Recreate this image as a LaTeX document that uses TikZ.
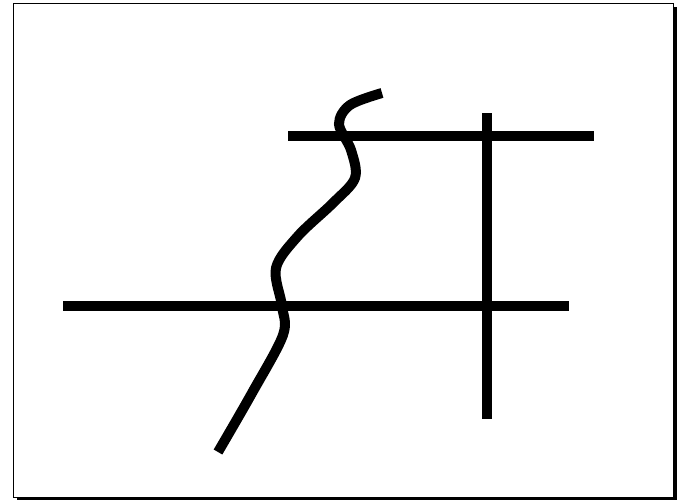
\documentclass[tikz,border=0pt]{standalone}
\usepackage{tikz}

\tikzset{
  bar/.style={line width=10pt,black},
  frame/.style={draw=black,line width=1pt,fill=white}
}

\begin{document}
\begin{tikzpicture}[x=1pt,y=-1pt]
  \useasboundingbox (0,0) rectangle (680,501);
  % page frame with shadow
  \fill[black] (17,7) rectangle (677,500);
  \filldraw[frame] (13,3) rectangle (673,497);

  % straight bars
  \draw[bar] (288,135.5) -- (594,135.5);
  \draw[bar] (63,306) -- (569,306);
  \draw[bar] (486.5,113) -- (486.5,419);

  % wavy line
  \draw[bar] plot[smooth,tension=0.55] coordinates {
    (382,93) (350,105) (339,124) (351,150) (355,178)
    (333,203) (298,236) (276,268) (282,306) (283,335)
    (252,393) (218,452)};
\end{tikzpicture}
\end{document}
